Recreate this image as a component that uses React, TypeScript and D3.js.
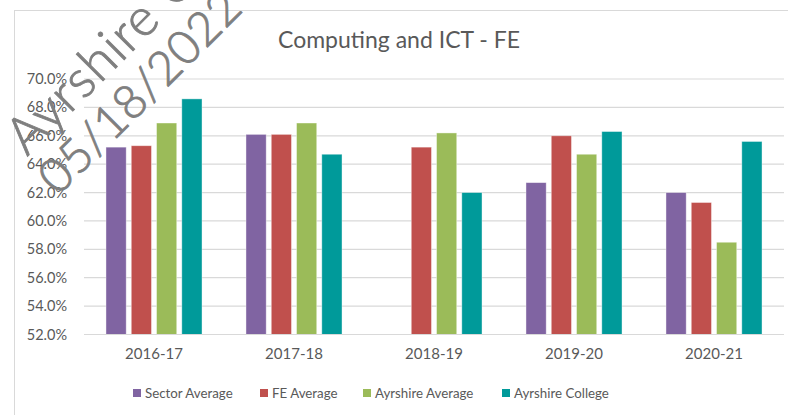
import * as d3 from 'd3';
import React from 'react';

const years = ['2016-17', '2017-18', '2018-19', '2019-20', '2020-21'];
const seriesNames = ['Sector Average', 'FE Average', 'Ayrshire Average', 'Ayrshire College'];
const sectorAverage = [65.2, 66.1, null, 62.7, 62.0];
const feAverage = [65.3, 66.1, 65.2, 66.0, 61.3];
const ayrshireAverage = [66.9, 66.9, 66.2, 64.7, 58.5];
const ayrshireCollege = [68.6, 64.7, 62.0, 66.3, 65.6];
const yTicks = [52, 54, 56, 58, 60, 62, 64, 66, 68, 70];
const colors = ['#8064A2', '#C0504D', '#9BBB59', '#009A9A'];

const font = 'Lato, "Open Sans", sans-serif';

function App() {
  const width = 788;
  const height = 415;
  const left = 84;
  const right = 784;
  const top = 79;
  const bottom = 334.5;

  const values = [sectorAverage, feAverage, ayrshireAverage, ayrshireCollege];

  const x0 = d3.scaleBand<string>()
    .domain(years)
    .range([left, right])
    .paddingInner(0.314)
    .paddingOuter(0.157);

  const x1 = d3.scaleBand<string>()
    .domain(seriesNames)
    .range([0, x0.bandwidth()])
    .paddingInner(0.2)
    .paddingOuter(0);

  const y = d3.scaleLinear().domain([52, 70]).range([bottom, top]);

  // legend marker left edges
  const legendX = [133, 260, 363, 502];

  return (
    <svg width={width} height={height} style={{ position: 'absolute', left: 0, top: 0 }}>
      <rect x={0} y={0} width={width} height={height} fill="#fff" />
      <rect x={14.5} y={10.5} width={900} height={500} fill="none" stroke="#d9d9d9" strokeWidth={1} />

      <text x={399} y={48} textAnchor="middle" fontFamily={font} fontSize={23} fill="#595959">
        Computing and ICT - FE
      </text>

      {yTicks.map((t) => (
        <g key={t}>
          <line x1={left} x2={right} y1={y(t)} y2={y(t)} stroke="#d9d9d9" strokeWidth={1.2} />
          <text x={67} y={y(t)} dy="0.35em" textAnchor="end" fontFamily={font} fontSize={14.5} fill="#595959">
            {t.toFixed(1)}%
          </text>
        </g>
      ))}

      {years.map((yr, i) => (
        <g key={yr}>
          {values.map((s, j) => {
            const v = s[i];
            if (v == null) return null;
            return (
              <rect
                key={j}
                x={(x0(yr) as number) + (x1(seriesNames[j]) as number)}
                y={y(v)}
                width={x1.bandwidth()}
                height={bottom - y(v)}
                fill={colors[j]}
                stroke="#ffffff"
                strokeOpacity={0.5}
                strokeWidth={0.8}
              />
            );
          })}
          <text
            x={(x0(yr) as number) + x0.bandwidth() / 2}
            y={359}
            textAnchor="middle"
            fontFamily={font}
            fontSize={15}
            fill="#595959"
          >
            {yr}
          </text>
        </g>
      ))}

      <line x1={left} x2={right} y1={bottom} y2={bottom} stroke="#d9d9d9" strokeWidth={1.2} />

      {seriesNames.map((name, j) => (
        <g key={name}>
          <rect x={legendX[j]} y={389} width={8} height={8} fill={colors[j]} />
          <text x={legendX[j] + 12} y={393} dy="0.35em" fontFamily={font} fontSize={13.3} fill="#595959">
            {name}
          </text>
        </g>
      ))}

      {/* watermark */}
      <g
        transform="translate(27,157) rotate(-45)"
        fill="#7f7f7f"
        stroke="#7f7f7f"
        strokeWidth={0.9}
        fontFamily={font}
        fontWeight={300}
      >
        <text x={0} y={0} fontSize={52} letterSpacing={1.2}>Ayrshire College</text>
        <text x={-6} y={50} fontSize={47} letterSpacing={0.5}>05/18/2022</text>
      </g>
    </svg>
  );
}

export default App;
